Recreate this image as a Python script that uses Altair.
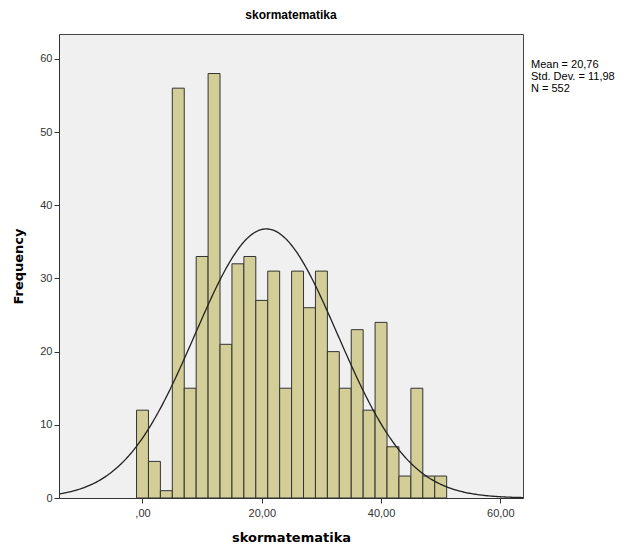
import altair as alt
import pandas as pd

# Histogram bins (centers, width 2) and frequencies
bin_centers = [0, 2, 4, 6, 8, 10, 12, 14, 16, 18, 20, 22, 24, 26, 28, 30,
               32, 34, 36, 38, 40, 42, 44, 46, 48, 50]
frequencies = [12, 5, 1, 56, 15, 33, 58, 21, 32, 33, 27, 31, 15, 31, 26, 31,
               20, 15, 23, 12, 24, 7, 3, 15, 3, 3]
bin_width = 2

# Statistics shown in the chart
mean_val = 20.76
sd_val = 11.98
n_val = 552
stat_lines = ["Mean = 20,76", "Std. Dev. = 11,98", "N = 552"]

x_domain = [-14, 63.8]
y_domain = [0, 63.4]
x_ticks = [0, 20, 40, 60]
y_ticks = [0, 10, 20, 30, 40, 50, 60]

bars_df = pd.DataFrame({
    "start": [c - bin_width / 2 for c in bin_centers],
    "end": [c + bin_width / 2 for c in bin_centers],
    "count": frequencies,
})

label_expr = "datum.value == 0 ? ',00' : replace(format(datum.value, '.2f'), '.', ',')"

x_scale = alt.Scale(domain=x_domain, nice=False, zero=False)
y_scale = alt.Scale(domain=y_domain, nice=False)

x_axis = alt.Axis(values=x_ticks, labelExpr=label_expr, grid=False, title="skormatematika",
                  titleFont="DejaVu Sans", titleFontSize=13, titleFontWeight="bold",
                  titleColor="#000", titlePadding=13, labelFont="Liberation Sans",
                  labelFontSize=11, labelColor="#333", tickColor="#333", tickSize=5,
                  domainColor="#333", labelPadding=4)
y_axis = alt.Axis(values=y_ticks, grid=False, title="Frequency",
                  titleFont="DejaVu Sans", titleFontSize=13, titleFontWeight="bold",
                  titleColor="#000", titlePadding=14, labelFont="Liberation Sans",
                  labelFontSize=11, labelColor="#333", tickColor="#333", tickSize=5,
                  domainColor="#333", labelPadding=2)

bars = alt.Chart(bars_df).mark_bar(color="#D3CE97", stroke="#333333", strokeWidth=1).encode(
    x=alt.X("start:Q", scale=x_scale, axis=x_axis),
    x2="end:Q",
    y=alt.Y("count:Q", scale=y_scale, axis=y_axis),
    y2=alt.datum(0),
)

curve = alt.Chart(alt.sequence(start=x_domain[0], stop=x_domain[1] + 0.1, step=0.2, as_="xv")).transform_calculate(
    dens=f"{n_val} * {bin_width} * exp(-0.5 * pow((datum.xv - {mean_val}) / {sd_val}, 2)) / ({sd_val} * sqrt(2 * PI))"
).mark_line(color="#222", strokeWidth=1.3, clip=True).encode(
    x=alt.X("xv:Q", scale=x_scale),
    y=alt.Y("dens:Q", scale=y_scale),
)

stat_layers = []
for i, line in enumerate(stat_lines):
    stat_layers.append(
        alt.Chart(bars_df).mark_text(align="left", baseline="middle", font="Liberation Sans",
                                     fontSize=11, color="#000", text=line).encode(
            x=alt.value(472), y=alt.value(31 + 12 * i)
        ).transform_filter("datum.start == -1")
    )

chart = alt.layer(bars, curve, *stat_layers).properties(
    width=464, height=464,
    title=alt.TitleParams("skormatematika", font="Liberation Sans", fontSize=12,
                          fontWeight="bold", color="#000", anchor="middle", offset=12),
    autosize=alt.AutoSizeParams(type="none"),
    padding={"left": 51, "top": 26, "right": 95, "bottom": 46},
).configure_view(fill="#F0F0F0", stroke="#444", strokeWidth=1)

chart.save("out.html", embed_options={"renderer": "svg", "actions": False})
